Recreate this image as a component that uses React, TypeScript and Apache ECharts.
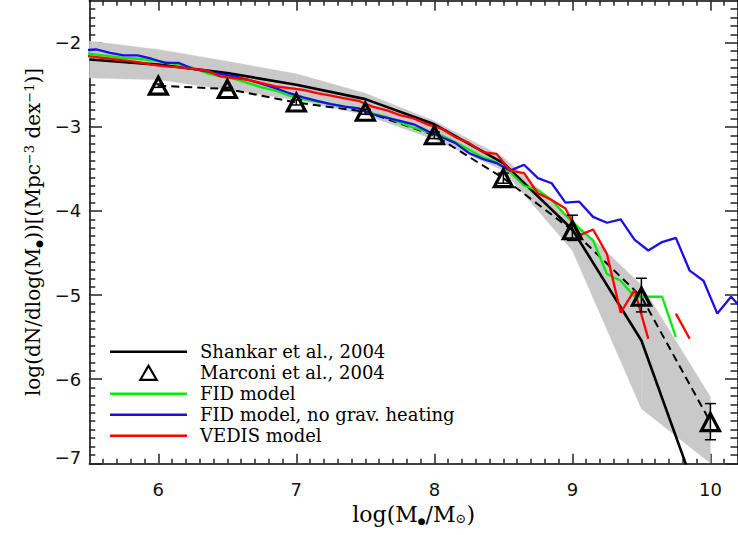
import React, { useEffect, useRef } from 'react';
import * as echarts from 'echarts';

// ---- data ----
const bandX = [5.5, 6, 6.5, 7, 7.5, 8, 8.5, 9, 9.5, 10];
const bandUpper = [-1.98, -2.08, -2.22, -2.37, -2.6, -2.93, -3.36, -4.1, -4.88, -6.21];
const bandLower = [-2.42, -2.44, -2.56, -2.68, -2.86, -3.15, -3.52, -4.47, -6.35, -7.0];

const shankarX = [5.5, 6, 6.5, 7, 7.5, 8, 8.5, 9, 9.5, 10];
const shankarY = [-2.2, -2.26, -2.36, -2.5, -2.67, -2.97, -3.43, -4.22, -5.54, -7.82];

const marconiX = [6, 6.5, 7, 7.5, 8, 8.5, 9, 9.5, 10];
const marconiY = [-2.51, -2.55, -2.71, -2.82, -3.1, -3.61, -4.23, -5.02, -6.51];
const marconiLow = [-2.53, -2.57, -2.74, -2.85, -3.14, -3.67, -4.35, -5.2, -6.72];
const marconiHigh = [-2.49, -2.53, -2.68, -2.79, -3.06, -3.55, -4.05, -4.8, -6.29];

const modelX = [
  5.45, 5.55, 5.65, 5.75, 5.85, 5.95, 6.05, 6.15, 6.25, 6.35, 6.45, 6.55, 6.65, 6.75, 6.85,
  6.95, 7.05, 7.15, 7.25, 7.35, 7.45, 7.55, 7.65, 7.75, 7.85, 7.95, 8.05, 8.15, 8.25, 8.35,
  8.45, 8.55, 8.65, 8.75, 8.85, 8.95, 9.05, 9.15, 9.25, 9.35, 9.45, 9.55, 9.65, 9.75, 9.85,
];
const fidY = [
  -2.12, -2.14, -2.16, -2.18, -2.19, -2.21, -2.23, -2.26, -2.3, -2.36, -2.4, -2.43, -2.48, -2.53, -2.57,
  -2.63, -2.67, -2.7, -2.73, -2.76, -2.78, -2.84, -2.88, -2.95, -3.01, -3.06, -3.1, -3.18, -3.27, -3.36,
  -3.42, -3.54, -3.7, -3.75, -3.87, -4.05, -4.21, -4.35, -4.75, -4.83, -5.02, -5.02, -5.02, -5.5, null,
];
const vedisY = [
  -2.15, -2.17, -2.19, -2.21, -2.23, -2.26, -2.28, -2.29, -2.31, -2.33, -2.4, -2.42, -2.44, -2.48, -2.52,
  -2.54, -2.56, -2.6, -2.63, -2.66, -2.69, -2.76, -2.8, -2.86, -2.9, -2.97, -3.02, -3.12, -3.19, -3.3,
  -3.32, -3.52, -3.55, -3.79, -3.87, -3.97, -4.29, -4.22, -4.51, -5.21, -4.94, -5.52, null, -5.22, -5.52,
];
const noHeatX = [
  5.45, 5.55, 5.65, 5.75, 5.85, 5.95, 6.05, 6.15, 6.25, 6.35, 6.45, 6.55, 6.65, 6.75, 6.85,
  6.95, 7.05, 7.15, 7.25, 7.35, 7.45, 7.55, 7.65, 7.75, 7.85, 7.95, 8.05, 8.15, 8.25, 8.35,
  8.45, 8.55, 8.65, 8.75, 8.85, 8.95, 9.05, 9.15, 9.25, 9.35, 9.45, 9.55, 9.65, 9.75, 9.85,
  9.95, 10.05, 10.15, 10.25,
];
const noHeatY = [
  -2.09, -2.08, -2.12, -2.15, -2.15, -2.19, -2.24, -2.24, -2.31, -2.34, -2.37, -2.4, -2.44, -2.49, -2.54,
  -2.6, -2.65, -2.69, -2.73, -2.76, -2.78, -2.85, -2.89, -2.93, -2.97, -3.05, -3.12, -3.19, -3.31, -3.38,
  -3.43, -3.52, -3.45, -3.61, -3.67, -3.9, -3.89, -4.07, -4.14, -4.1, -4.34, -4.47, -4.37, -4.32, -4.71,
  -4.83, -5.22, -5.02, -5.2,
];

const xMajorTicks = [6, 7, 8, 9, 10];
const yMajorTicks = [-7, -6, -5, -4, -3, -2];
const X_MIN = 5.5, X_MAX = 10.2, Y_MIN = -7, Y_MAX = -1.5;

const legendNames = [
  'Shankar et al., 2004',
  'Marconi et al., 2004',
  'FID model',
  'FID model, no grav. heating',
  'VEDIS model',
];

function minorList(a: number, b: number, majors: number[]) {
  const out: number[] = [];
  for (let i = Math.round(a * 10); i <= Math.round(b * 10); i++) {
    const v = i / 10;
    if (!majors.includes(v)) out.push(v);
  }
  return out;
}

export default function App() {
  const ref = useRef<HTMLDivElement>(null);
  useEffect(() => {
    if (!ref.current) return;
    const chart = echarts.init(ref.current, null, { renderer: 'svg' });
    const xMinor = minorList(5.6, 10.1, xMajorTicks);
    const yMinor = minorList(-6.9, -1.6, yMajorTicks);
    const tickColor = '#222';
    const serif = 'DejaVu Serif';
    const legendFont = 18;
    const rowStep = 21;
    const lw = 2.3;

    const mkX = (pos: 'top' | 'bottom', ticks: number[], len: number, labels: boolean, line: boolean) => ({
      type: 'value',
      position: pos,
      min: X_MIN,
      max: X_MAX,
      axisLine: { show: line, onZero: false, lineStyle: { color: '#000', width: 1.5 } },
      axisTick: { show: true, inside: true, length: len, customValues: ticks, lineStyle: { color: tickColor, width: 1.5 } },
      axisLabel: labels
        ? { show: true, customValues: xMajorTicks, margin: 17, color: '#111', fontFamily: 'DejaVu Sans', fontSize: 18 }
        : { show: false },
      splitLine: { show: false },
    });
    const mkY = (pos: 'left' | 'right', ticks: number[], len: number, labels: boolean, line: boolean) => ({
      type: 'value',
      position: pos,
      min: Y_MIN,
      max: Y_MAX,
      axisLine: { show: line, onZero: false, lineStyle: { color: '#000', width: 1.5 } },
      axisTick: { show: true, inside: true, length: len, customValues: ticks, lineStyle: { color: tickColor, width: 1.5 } },
      axisLabel: labels
        ? {
            show: true,
            customValues: yMajorTicks,
            margin: 8,
            color: '#111',
            fontFamily: 'DejaVu Sans',
            fontSize: 18,
            formatter: (v: number) => (v === -7 ? '{lo|\u2212' + Math.abs(v) + '}' : '\u2212' + Math.abs(v)),
            rich: { lo: { fontFamily: 'DejaVu Sans', fontSize: 18, color: '#111', padding: [0, 0, 12, 0] } },
          }
        : { show: false },
      splitLine: { show: false },
    });

    const xAxes: any[] = [
      mkX('bottom', xMajorTicks, 9.5, true, true),
      mkX('bottom', xMinor, 4.5, false, false),
      mkX('top', xMajorTicks, 10, false, true),
      mkX('top', xMinor, 5, false, false),
    ];
    xAxes[0].name = 'log(M{sub|\u25CF}/M{sub2|\u2299})';
    xAxes[0].nameLocation = 'middle';
    xAxes[0].nameGap = 26;
    xAxes[0].nameTextStyle = {
      fontFamily: serif,
      fontSize: 22,
      color: '#000',
      rich: {
        sub: { fontFamily: serif, fontSize: 9, verticalAlign: 'bottom', color: '#000' },
        sub2: { fontFamily: serif, fontSize: 13, verticalAlign: 'bottom', color: '#000' },
      },
    };
    const yAxes: any[] = [
      mkY('left', yMajorTicks, 12.7, true, true),
      mkY('left', yMinor, 6, false, false),
      mkY('right', yMajorTicks, 13, false, true),
      mkY('right', yMinor, 7.5, false, false),
    ];
    yAxes[0].name = 'log(dN/dlog(M{sub|\u25CF}))[(Mpc{sup|\u22123} dex{sup|\u22121})]';
    yAxes[0].nameLocation = 'middle';
    yAxes[0].nameGap = 46;
    yAxes[0].nameTextStyle = {
      fontFamily: serif,
      fontSize: 20,
      color: '#000',
      rich: {
        sub: { fontFamily: serif, fontSize: 9, verticalAlign: 'bottom', color: '#000' },
        sup: { fontFamily: serif, fontSize: 13, verticalAlign: 'top', color: '#000' },
      },
    };

    const bandSegments = bandX.slice(0, -1).map((x, i) => [
      x, bandLower[i], bandUpper[i], bandX[i + 1], bandLower[i + 1], bandUpper[i + 1],
    ]);

    const lineIcon = 'path://M0,0L77,0L77,2.5L0,2.5Z';
    const triIcon = 'path://M7,0L14,12L0,12Z';

    const option: any = {
      animation: false,
      grid: { left: 89.3, top: 0.7, right: -3.5, bottom: 71.7, containLabel: false },
      xAxis: xAxes,
      yAxis: yAxes,
      legend: {
        data: [
          { name: legendNames[0], icon: lineIcon },
          {
            name: legendNames[1],
            icon: triIcon,
            itemStyle: { color: 'rgba(0,0,0,0)', borderColor: '#000', borderWidth: 2.2, opacity: 1 },
          },
          { name: legendNames[2], icon: lineIcon },
          { name: legendNames[3], icon: lineIcon },
          { name: legendNames[4], icon: lineIcon },
        ],
        orient: 'vertical',
        left: 110,
        top: 351.8 - legendFont / 2,
        padding: 0,
        itemWidth: 77,
        itemHeight: 14,
        itemGap: rowStep - legendFont,
        symbolKeepAspect: true,
        selectedMode: false,
        textStyle: { fontFamily: serif, fontSize: legendFont, color: '#000', padding: [0, 0, 0, 8] },
      },
      series: [
        {
          type: 'custom',
          name: 'band',
          silent: true,
          z: 1,
          clip: true,
          data: bandSegments,
          encode: { x: [0, 3], y: [1, 2, 4, 5] },
          renderItem: (params: any, api: any) => {
            const a = api.coord([api.value(0), api.value(2)]);
            const b = api.coord([api.value(3), api.value(5)]);
            const c = api.coord([api.value(3), api.value(4)]);
            const d = api.coord([api.value(0), api.value(1)]);
            return {
              type: 'polygon',
              shape: { points: [a, b, c, d] },
              style: { fill: '#c9c9c9', stroke: '#c9c9c9', lineWidth: 0.3 },
            };
          },
        },
        {
          type: 'line',
          name: 'Shankar et al., 2004',
          data: shankarX.map((x, i) => [x, shankarY[i]]),
          symbol: 'none',
          z: 3,
          lineStyle: { color: '#000', width: 2.6 },
          itemStyle: { color: '#000' },
        },
        {
          type: 'line',
          name: 'marconiLine',
          data: marconiX.map((x, i) => [x, marconiY[i]]),
          symbol: 'none',
          z: 3,
          lineStyle: { color: '#000', width: 2, type: [8, 5] },
        },
        {
          type: 'line',
          name: 'FID model',
          data: modelX.map((x, i) => [x, fidY[i]]),
          symbol: 'none',
          z: 4,
          connectNulls: false,
          lineStyle: { color: '#00ee00', width: lw },
          itemStyle: { color: '#00ee00' },
        },
        {
          type: 'line',
          name: 'FID model, no grav. heating',
          data: noHeatX.map((x, i) => [x, noHeatY[i]]),
          symbol: 'none',
          z: 4,
          lineStyle: { color: '#1a0fe6', width: lw },
          itemStyle: { color: '#1a0fe6' },
        },
        {
          type: 'line',
          name: 'VEDIS model',
          data: modelX.map((x, i) => [x, vedisY[i]]),
          symbol: 'none',
          z: 4,
          connectNulls: false,
          lineStyle: { color: '#ff0000', width: lw },
          itemStyle: { color: '#ff0000' },
        },
        {
          type: 'custom',
          name: 'errors',
          silent: true,
          z: 5,
          data: marconiX.map((x, i) => [x, marconiLow[i], marconiHigh[i]]),
          encode: { x: 0, y: [1, 2] },
          renderItem: (params: any, api: any) => {
            const top = api.coord([api.value(0), api.value(2)]);
            const bot = api.coord([api.value(0), api.value(1)]);
            const w = 5.5;
            const st = { stroke: '#000', lineWidth: 1.5 };
            return {
              type: 'group',
              children: [
                { type: 'line', shape: { x1: top[0], y1: top[1], x2: bot[0], y2: bot[1] }, style: st },
                { type: 'line', shape: { x1: top[0] - w, y1: top[1], x2: top[0] + w, y2: top[1] }, style: st },
                { type: 'line', shape: { x1: bot[0] - w, y1: bot[1], x2: bot[0] + w, y2: bot[1] }, style: st },
              ],
            };
          },
        },
        {
          type: 'scatter',
          name: 'Marconi et al., 2004',
          data: marconiX.map((x, i) => [x, marconiY[i]]),
          symbol: 'triangle',
          symbolSize: [18, 17],
          z: 6,
          itemStyle: { color: 'rgba(0,0,0,0)', borderColor: '#000', borderWidth: 3.2, opacity: 1 },
        },
      ],
    };
    chart.setOption(option);
    return () => chart.dispose();
  }, []);
  return (
    <div
      ref={ref}
      style={{ position: 'absolute', left: 0, top: 0, width: 738, height: 535, background: '#fff', overflow: 'hidden' }}
    />
  );
}
